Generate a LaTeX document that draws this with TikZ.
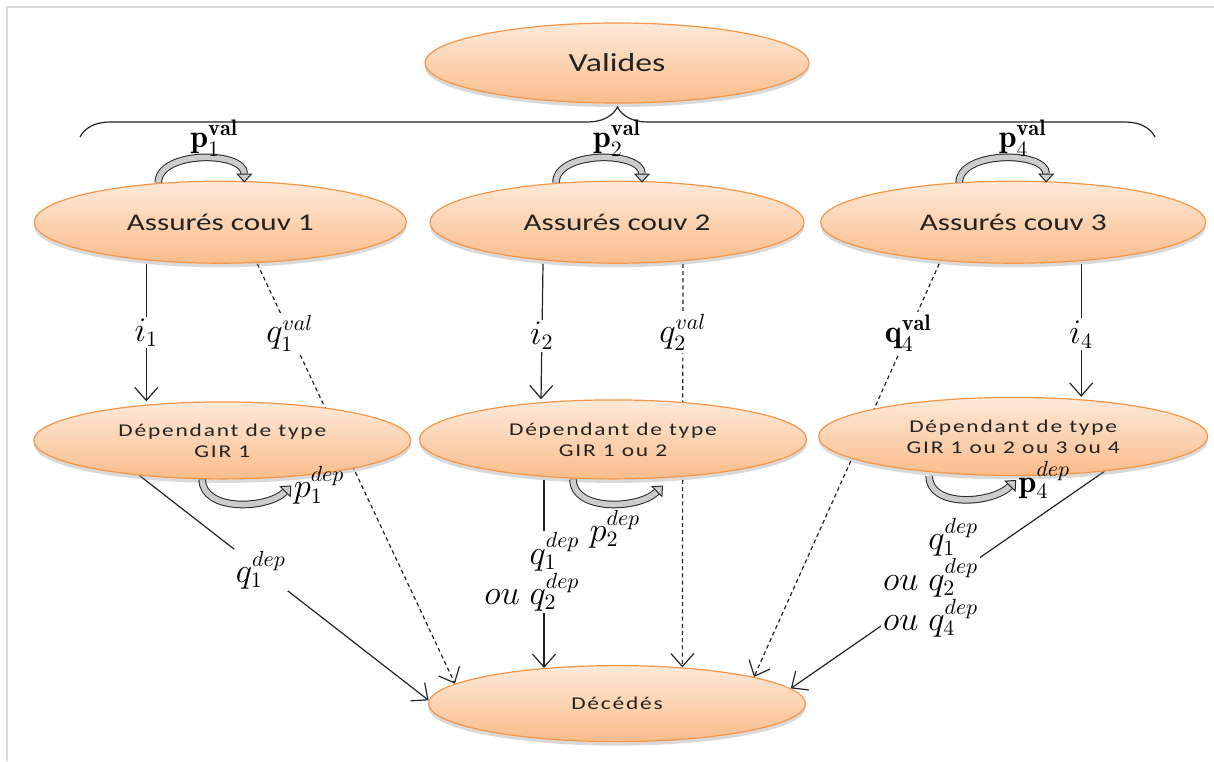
\documentclass[tikz,border=0pt]{standalone}
\usepackage{fontspec}
\newfontfamily\boxfont{Carlito}[FakeStretch=1.3]
\newfontfamily\spacedfont{Carlito}[FakeStretch=1.3,LetterSpace=10]
\usetikzlibrary{shapes.geometric, arrows.meta, positioning, shadows, decorations.pathreplacing, backgrounds}

\definecolor{ovaltop}{RGB}{253,234,218}
\definecolor{ovalbot}{RGB}{250,188,138}
\definecolor{ovalline}{RGB}{247,150,70}
\definecolor{ink}{RGB}{35,35,35}

\begin{document}
\begin{tikzpicture}[
    x=0.5pt, y=0.5pt,
    oval/.style={ellipse, draw=ovalline, semithick, top color=ovaltop, bottom color=ovalbot, inner sep=0pt, align=center, text=ink, drop shadow={shadow xshift=0pt, shadow yshift=-2pt, opacity=0.3}},
    cover/.style={oval, minimum width=187pt, minimum height=41pt, font=\boxfont\fontsize{12}{14}\selectfont},
    depbox/.style={oval, minimum width=190pt, minimum height=39pt, font=\spacedfont\fontsize{9}{10.5}\selectfont},
    arrow/.style={-{Straight Barb[length=6.5pt,width=11.5pt]}, semithick, draw=ink},
    dasharrow/.style={arrow, dash pattern=on 2pt off 1.6pt},
    lbl/.style={fill=white, inner sep=1pt, font=\fontsize{16}{17}\selectfont},
    looplbl/.style={inner sep=1pt, font=\fontsize{16}{17}\selectfont},
    valloop/.style={draw=black!85, line width=0.5pt, double=gray!40, double distance=2.8pt, -{Triangle[open, fill=gray!40, length=4.5pt, width=8pt]}},
    curly/.style={decorate, decoration={brace, amplitude=15pt}, semithick, draw=ink}
]
\useasboundingbox (0,0) rectangle (1214,-761);
\draw[black!15, line width=1pt] (7,-761) -- (7,-7) -- (1214,-7);

% States
\node[oval, minimum width=192pt, minimum height=40pt, font=\boxfont\fontsize{13}{15}\selectfont] (val) at (617,-63) {Valides};
\node[cover, below=38.5pt of val] (ac2) {Assurés couv 2};
\node[cover, left=11.25pt of ac2, minimum width=186pt] (ac1) {Assurés couv 1};
\node[cover, right=7.75pt of ac2, minimum width=192.5pt] (ac3) {Assurés couv 3};

\node[depbox, below=68.75pt of ac1, xshift=1pt, minimum width=188.5pt, minimum height=38.5pt] (dep1) {Dépendant de type\\GIR 1};
\node[depbox, below=67.75pt of ac2, xshift=-2pt, minimum width=193.5pt, minimum height=39.5pt] (dep2) {Dépendant de type\\GIR 1 ou 2};
\node[depbox, below=66.5pt of ac3, minimum width=194.5pt] (dep3) {Dépendant de type\\GIR 1 ou 2 ou 3 ou 4};

\node[depbox, below=92.75pt of dep2, xshift=2pt, minimum width=188.5pt, minimum height=38pt] (dec) {Décédés};

% Brace under Valides
\coordinate (bl) at (80,-137);
\coordinate (br) at (1155,-137);
\draw[curly] (bl) -- (br);

% Transitions
\begin{scope}[on background layer]
\draw[arrow] ([xshift=-37pt]ac1.south) -- node[lbl, pos=0.5] {$i_1$} ([xshift=-38pt]dep1.north);
\draw[dasharrow] ([xshift=18.5pt]ac1.south) -- node[lbl, pos=0.165] {$q_1^{val}$} (dec.173);
\draw[arrow] (dep1.203) -- node[lbl, pos=0.42] {$q_1^{dep}$} (dec.179);

\draw[arrow] ([xshift=-37pt]ac2.south) -- node[lbl, pos=0.53] {$i_2$} ([xshift=-36pt]dep2.north);
\draw[dasharrow] ([xshift=33pt]ac2.south) -- node[lbl, pos=0.17] {$q_2^{val}$} (dec.29);
\draw[arrow] (dec.154 |- dep2.south) -- node[lbl, pos=0.49, xshift=-6pt, align=right] {$q_1^{dep}$\\$ou\ q_2^{dep}$} (dec.154);

\draw[dasharrow] ([xshift=-37pt]ac3.south) -- node[lbl, pos=0.167] {$\mathbf{q}_4^{\mathbf{val}}$} (dec.11);
\draw[arrow] ([xshift=34pt]ac3.south) -- node[lbl, pos=0.53] {$i_4$} ([xshift=34pt]dep3.north);
\draw[arrow] (dep3.339) -- node[lbl, pos=0.49, xshift=-10pt, align=right] {$q_1^{dep}$\\$ou\ q_2^{dep}$\\$ou\ q_4^{dep}$} (dec.5);
\end{scope}

% Staying loops
\draw[valloop] ([xshift=-31pt,yshift=-1pt]ac1.north) .. controls +(0,16pt) and +(0,16pt) .. ([xshift=12pt,yshift=-1pt]ac1.north)
    node[looplbl, pos=0.5, above, xshift=6.5pt] {$\mathbf{p}_1^{\mathbf{val}}$};
\draw[valloop] ([xshift=-30.5pt,yshift=-1pt]ac2.north) .. controls +(0,16pt) and +(0,16pt) .. ([xshift=12.5pt,yshift=-1pt]ac2.north)
    node[looplbl, pos=0.5, above, xshift=9pt] {$\mathbf{p}_2^{\mathbf{val}}$};
\draw[valloop] ([xshift=-27pt,yshift=-1pt]ac3.north) .. controls +(0,16pt) and +(0,16pt) .. ([xshift=16.5pt,yshift=-1pt]ac3.north)
    node[looplbl, pos=0.5, above, xshift=10pt] {$\mathbf{p}_4^{\mathbf{val}}$};

\draw[valloop] ([xshift=-10pt]dep1.south) .. controls +(0,-16pt) and +(-12pt,-12pt) .. ([xshift=34.5pt,yshift=-3pt]dep1.south)
    node[looplbl, right] {$p_1^{dep}$};
\draw[valloop] ([xshift=-20pt]dep2.south) .. controls +(0,-16pt) and +(-12pt,-12pt) .. ([xshift=25pt,yshift=-3pt]dep2.south)
    node[looplbl, pos=0.55, below=2pt] {$p_2^{dep}$};
\draw[valloop] ([xshift=-42pt]dep3.south) .. controls +(0,-16pt) and +(-12pt,-12pt) .. ([xshift=1.5pt,yshift=-2pt]dep3.south)
    node[looplbl, right] {$\mathbf{p}_4^{dep}$};

\end{tikzpicture}
\end{document}
